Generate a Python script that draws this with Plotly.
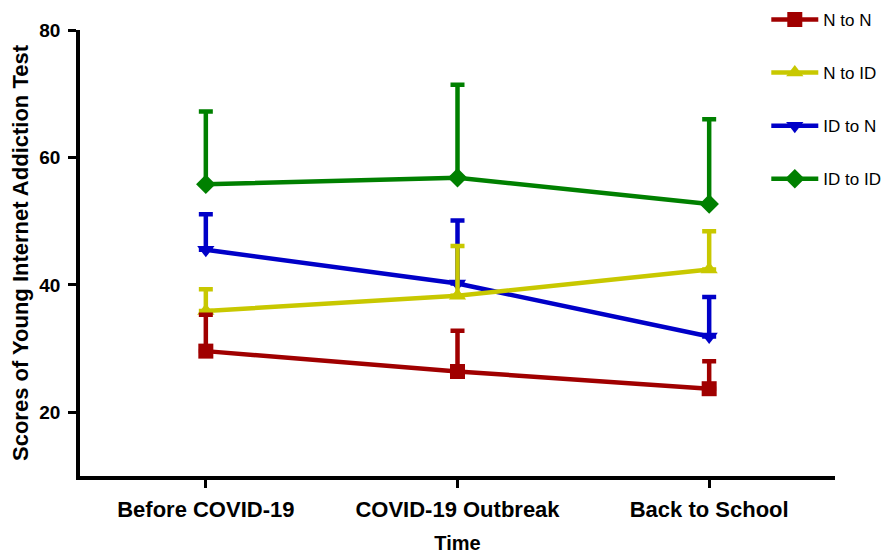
import plotly.graph_objects as go

categories = ["Before COVID-19", "COVID-19 Outbreak", "Back to School"]
series_names = ["N to N", "N to ID", "ID to N", "ID to ID"]
n_to_n = [29.6, 26.4, 23.7]
n_to_n_upper = [35.3, 32.8, 28.0]
n_to_id = [35.9, 38.3, 42.4]
n_to_id_upper = [39.3, 46.1, 48.4]
id_to_n = [45.5, 40.2, 31.9]
id_to_n_upper = [51.1, 50.1, 38.1]
id_to_id = [55.8, 56.8, 52.7]
id_to_id_upper = [67.2, 71.4, 66.0]
y_ticks = [20, 40, 60, 80]

colors = ["#A00000", "#C8C800", "#0000C8", "#008000"]
symbols = ["square", "triangle-up", "triangle-down", "diamond"]
means = [n_to_n, n_to_id, id_to_n, id_to_id]
uppers = [n_to_n_upper, n_to_id_upper, id_to_n_upper, id_to_id_upper]

FONT = "Liberation Sans, Arial, sans-serif"

fig = go.Figure()
# draw in reverse so N to N ends up on top
for i in reversed(range(4)):
    err = [u - m for u, m in zip(uppers[i], means[i])]
    fig.add_trace(go.Scatter(
        x=categories, y=means[i], name=series_names[i],
        mode="lines+markers",
        line=dict(color=colors[i], width=4.5),
        marker=dict(symbol=symbols[i], size=15, color=colors[i]),
        error_y=dict(type="data", array=err, arrayminus=[0, 0, 0], symmetric=False,
                     color=colors[i], thickness=4.5, width=7),
        legendgroup=series_names[i], legendrank=i + 1,
    ))

# page body has an 8px margin, so the figure is 8px smaller than the window
fig.update_layout(
    width=887, height=546,
    margin=dict(l=72, r=60, t=22, b=78, autoexpand=False),
    plot_bgcolor="white", paper_bgcolor="white",
    font=dict(family=FONT, color="black"),
    showlegend=True,
    legend=dict(
        x=0.909, y=1.063, xanchor="left", yanchor="top",
        font=dict(size=17, family=FONT, color="black"),
        tracegroupgap=28, itemwidth=47,
        bgcolor="rgba(0,0,0,0)",
    ),
    xaxis=dict(
        type="category", range=[-0.5, 2.5],
        showline=True, linecolor="black", linewidth=3.5,
        ticks="outside", ticklen=8, tickwidth=3, tickcolor="black",
        tickfont=dict(size=22, family=FONT, weight="bold"),
        ticklabelstandoff=3,
        showgrid=False, zeroline=False,
        title=dict(text="Time", font=dict(size=20, family=FONT, weight="bold"), standoff=26),
    ),
    yaxis=dict(
        range=[10, 80], tickvals=y_ticks,
        showline=True, linecolor="black", linewidth=3.5,
        ticks="outside", ticklen=8, tickwidth=3, tickcolor="black",
        tickfont=dict(size=19, family=FONT, weight="bold"),
        ticklabelstandoff=4,
        showgrid=False, zeroline=False,
        title=dict(text="Scores of Young Internet Addiction Test",
                   font=dict(size=22, family=FONT, weight="bold"), standoff=9),
    ),
)

fig.write_html("out.html")
